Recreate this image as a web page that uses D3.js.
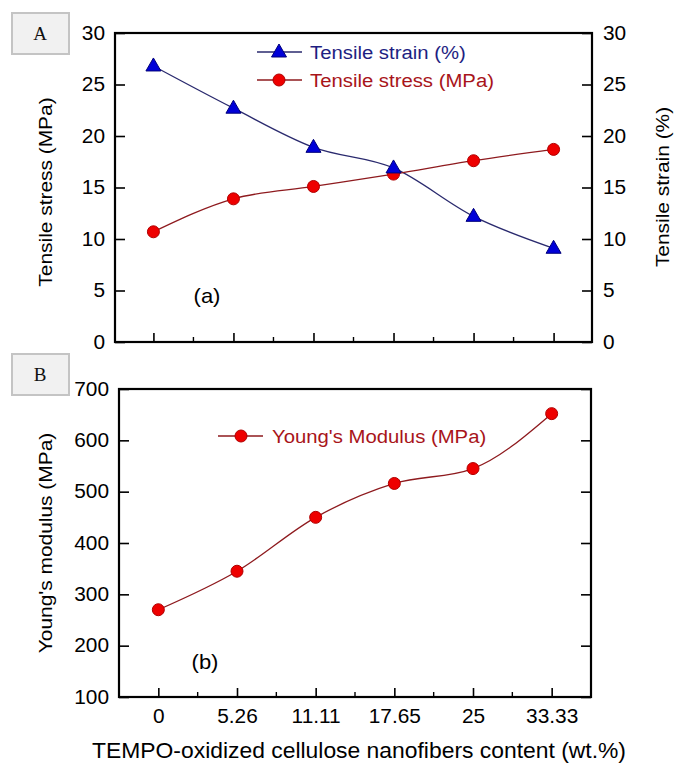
<!DOCTYPE html>
<html>
<head>
<meta charset="utf-8">
<script src="https://cdn.jsdelivr.net/npm/d3@7"></script>
<style>
    body { margin: 0; background: #ffffff; }
    svg { display: block; }
</style>
</head>
<body>
<script>
// chart data
var categories = ["0", "5.26", "11.11", "17.65", "25", "33.33"];
var tensileStrain = [26.8, 22.7, 18.9, 16.9, 12.2, 9.1];
var tensileStress = [10.7, 13.9, 15.1, 16.3, 17.6, 18.7];
var youngsModulus = [270, 345, 450, 516, 545, 652];
var stressTicks = [0, 5, 10, 15, 20, 25, 30];
var modulusTicks = [100, 200, 300, 400, 500, 600, 700];

var width = 674,
    height = 765,
    font = "'Liberation Sans', Arial, sans-serif",
    stretch = 1.07,
    navyLine = "#2a2a6e",
    blueFill = "#0000d8",
    redLine = "#8e1a1e",
    redFill = "#ee0000";

var svg = d3.select("body").append("svg")
    .attr("width", width)
    .attr("height", height);

svg.append("rect")
    .attr("width", width)
    .attr("height", height)
    .attr("fill", "#ffffff");

/*
 * Put a slightly wide text at (x, y), optionally rotated.
 */
function addText(parent, x, y, str, size, anchor, color, rotate, sx)
{
    return parent.append("text")
        .attr("transform", "translate(" + x + "," + y + ")" +
              (rotate ? " rotate(" + rotate + ")" : "") +
              " scale(" + (sx || stretch) + ",1)")
        .attr("text-anchor", anchor)
        .attr("font-family", font)
        .attr("font-size", size)
        .attr("fill", color)
        .text(str);
}

/*
 * Style the ticks and labels made by a d3 axis.
 */
function styleAxis(g, dx)
{
    g.select(".domain").remove();
    g.selectAll(".tick line").attr("stroke", "#000").attr("stroke-width", 1.6);
    g.selectAll("text")
        .attr("font-family", font)
        .attr("font-size", 19.5)
        .attr("fill", "#000")
        .attr("x", 0)
        .attr("transform", "translate(" + dx + ",0) scale(" + stretch + ",1)");
}

/*
 * Draw the frame box, ticks and minor ticks of one panel.
 */
function drawFrame(g, f, x, y, yTicks, showX, rightLabels)
{
    // ticks along the left side
    var left = g.append("g")
        .attr("transform", "translate(" + f.left + ",0)")
        .call(d3.axisLeft(y).tickValues(yTicks).tickSizeInner(-10)
              .tickSizeOuter(0));
    styleAxis(left, -10);

    // ticks along the right side
    var right = g.append("g")
        .attr("transform", "translate(" + f.right + ",0)")
        .call(d3.axisRight(y).tickValues(yTicks).tickSizeInner(-10)
              .tickSizeOuter(0).tickFormat(rightLabels ? null : ""));
    styleAxis(right, 11);

    // major ticks along the bottom
    var bottom = g.append("g")
        .attr("transform", "translate(0," + f.bottom + ")")
        .call(d3.axisBottom(x).tickSizeInner(-9).tickSizeOuter(0)
              .tickPadding(12).tickFormat(showX ? null : ""));
    styleAxis(bottom, 0);

    // minor ticks half way between categories
    var step = x.step();
    var minor = categories.slice(1).map(function(c) { return x(c) - step / 2; });
    g.selectAll(".minor")
        .data(minor)
        .enter().append("line")
            .attr("x1", function(d) { return d; })
            .attr("x2", function(d) { return d; })
            .attr("y1", f.bottom)
            .attr("y2", f.bottom - 5)
            .attr("stroke", "#000")
            .attr("stroke-width", 1.4);

    // frame
    g.append("rect")
        .attr("x", f.left)
        .attr("y", f.top)
        .attr("width", f.right - f.left)
        .attr("height", f.bottom - f.top)
        .attr("fill", "none")
        .attr("stroke", "#000")
        .attr("stroke-width", 2.2);
}

/*
 * The grey lettered box at the top left of a panel.
 */
function drawBadge(g, x, y, letter)
{
    g.append("rect")
        .attr("x", x)
        .attr("y", y)
        .attr("width", 57)
        .attr("height", 41)
        .attr("fill", "#f1f1f1")
        .attr("stroke", "#c4c4c4")
        .attr("stroke-width", 2);
    g.append("text")
        .attr("x", x + 28)
        .attr("y", y + 27)
        .attr("text-anchor", "middle")
        .attr("font-family", "'Liberation Serif', 'Times New Roman', serif")
        .attr("font-size", 19)
        .attr("fill", "#111")
        .text(letter);
}

function trianglePath(cx, cy)
{
    return "M" + cx + "," + (cy - 8) + "L" + (cx + 7.5) + "," + (cy + 5) +
           "L" + (cx - 7.5) + "," + (cy + 5) + "Z";
}

// ---------- panel A ----------
var fa = {left: 115, right: 592, top: 33, bottom: 342};
var xa = d3.scalePoint().domain(categories).range([fa.left, fa.right]).padding(0.48);
var ya = d3.scaleLinear().domain([0, 30]).range([fa.bottom, fa.top]);
var panelA = svg.append("g");

drawBadge(panelA, 12, 13, "A");
drawFrame(panelA, fa, xa, ya, stressTicks, false, true);

var lineA = d3.line()
    .x(function(d, i) { return xa(categories[i]); })
    .y(function(d) { return ya(d); })
    .curve(d3.curveMonotoneX);

panelA.append("path")
    .attr("d", lineA(tensileStrain))
    .attr("fill", "none")
    .attr("stroke", navyLine)
    .attr("stroke-width", 1.3);

panelA.append("path")
    .attr("d", lineA(tensileStress))
    .attr("fill", "none")
    .attr("stroke", redLine)
    .attr("stroke-width", 1.3);

panelA.selectAll(".stress")
    .data(tensileStress)
    .enter().append("circle")
        .attr("cx", function(d, i) { return xa(categories[i]); })
        .attr("cy", function(d) { return ya(d); })
        .attr("r", 6)
        .attr("fill", redFill)
        .attr("stroke", "#b00000")
        .attr("stroke-width", 1);

panelA.selectAll(".strain")
    .data(tensileStrain)
    .enter().append("path")
        .attr("d", function(d, i) { return trianglePath(xa(categories[i]), ya(d)); })
        .attr("fill", blueFill)
        .attr("stroke", "#00007a")
        .attr("stroke-width", 1);

// legend of panel A
panelA.append("line")
    .attr("x1", 257).attr("x2", 302).attr("y1", 52).attr("y2", 52)
    .attr("stroke", navyLine).attr("stroke-width", 1.3);
panelA.append("path")
    .attr("d", trianglePath(279, 52))
    .attr("fill", blueFill).attr("stroke", "#00007a");
addText(panelA, 310, 59, "Tensile strain (%)", 19, "start", "#1e1e82");

panelA.append("line")
    .attr("x1", 257).attr("x2", 302).attr("y1", 80).attr("y2", 80)
    .attr("stroke", redLine).attr("stroke-width", 1.3);
panelA.append("circle")
    .attr("cx", 279).attr("cy", 80).attr("r", 6)
    .attr("fill", redFill).attr("stroke", "#b00000");
addText(panelA, 310, 87, "Tensile stress (MPa)", 19, "start", "#a8141a");

addText(panelA, 207, 303, "(a)", 20, "middle", "#000", 0, 1.1);
addText(panelA, 52, 192, "Tensile stress (MPa)", 19, "middle", "#000", -90, 1.1);
addText(panelA, 669, 187, "Tensile strain (%)", 19, "middle", "#000", -90, 1.1);

// ---------- panel B ----------
var fb = {left: 119, right: 591, top: 389, bottom: 697};
var xb = d3.scalePoint().domain(categories).range([fb.left, fb.right]).padding(0.5);
var yb = d3.scaleLinear().domain([100, 700]).range([fb.bottom, fb.top]);
var panelB = svg.append("g");

drawBadge(panelB, 12, 354, "B");
drawFrame(panelB, fb, xb, yb, modulusTicks, true, false);

var lineB = d3.line()
    .x(function(d, i) { return xb(categories[i]); })
    .y(function(d) { return yb(d); })
    .curve(d3.curveMonotoneX);

panelB.append("path")
    .attr("d", lineB(youngsModulus))
    .attr("fill", "none")
    .attr("stroke", redLine)
    .attr("stroke-width", 1.3);

panelB.selectAll(".modulus")
    .data(youngsModulus)
    .enter().append("circle")
        .attr("cx", function(d, i) { return xb(categories[i]); })
        .attr("cy", function(d) { return yb(d); })
        .attr("r", 6)
        .attr("fill", redFill)
        .attr("stroke", "#b00000")
        .attr("stroke-width", 1);

// legend of panel B
panelB.append("line")
    .attr("x1", 218).attr("x2", 263).attr("y1", 436).attr("y2", 436)
    .attr("stroke", redLine).attr("stroke-width", 1.3);
panelB.append("circle")
    .attr("cx", 241).attr("cy", 436).attr("r", 6)
    .attr("fill", redFill).attr("stroke", "#b00000");
addText(panelB, 272, 443, "Young's Modulus (MPa)", 19, "start", "#a8141a");

addText(panelB, 205, 669, "(b)", 20, "middle", "#000", 0, 1.1);
addText(panelB, 52, 543, "Young's modulus (MPa)", 19, "middle", "#000", -90, 1.1);
addText(panelB, 359, 758, "TEMPO-oxidized cellulose nanofibers content (wt.%)", 22, "middle", "#000", 0, 1.04);
</script>
</body>
</html>
